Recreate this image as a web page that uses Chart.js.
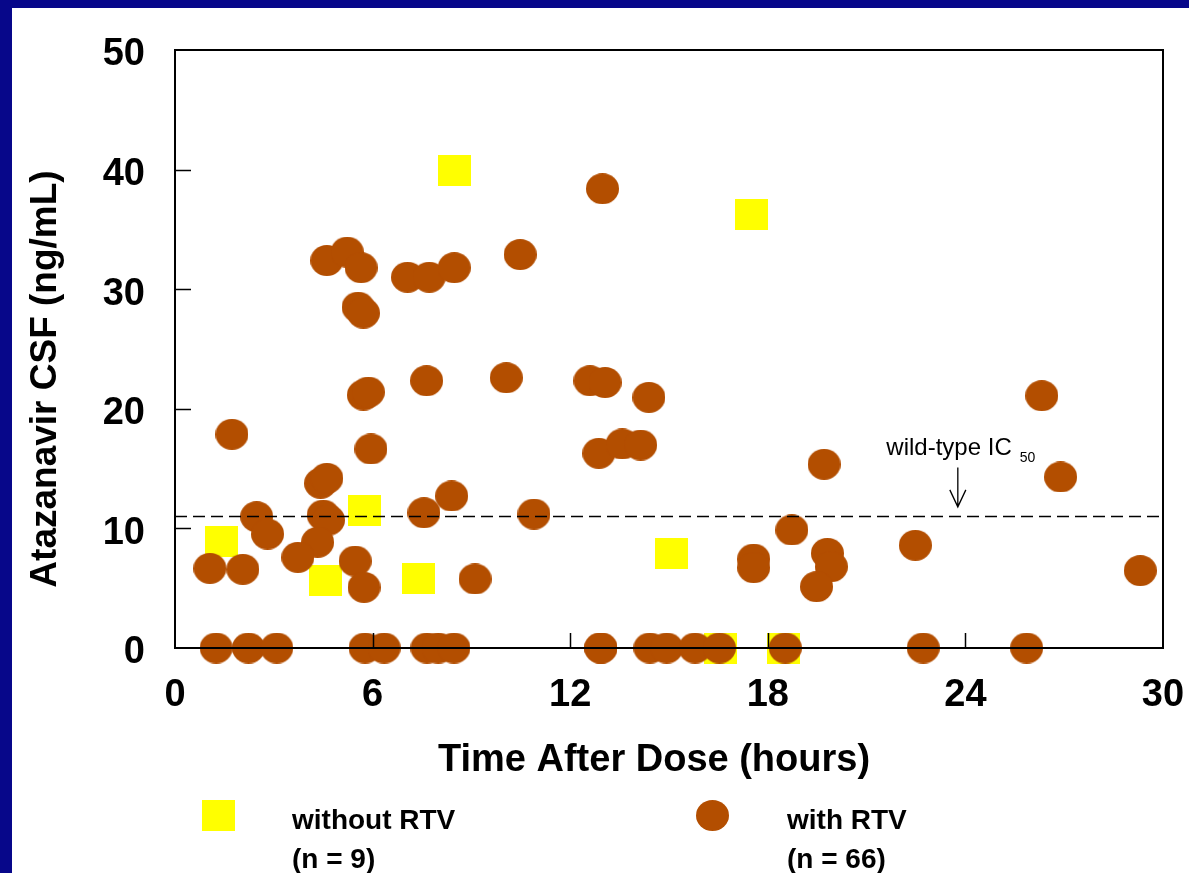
<!DOCTYPE html>
<html>
<head>
<meta charset="utf-8">
<title>Atazanavir CSF</title>
<script src="https://cdn.jsdelivr.net/npm/chart.js@4.4.1/dist/chart.umd.min.js"></script>
<style>
  html, body { margin: 0; padding: 0; background: #fff; }
  #wrap { position: relative; width: 1189px; height: 873px; overflow: hidden; background: #fff; }
  #chart { position: absolute; left: 0; top: 0; width: 1189px; height: 873px; }
  .bar { position: absolute; background: #07078a; }
</style>
</head>
<body>
<div id="wrap">
  <canvas id="chart" width="1189" height="873"></canvas>
  <div class="bar" style="left:0;top:0;width:1189px;height:8px"></div>
  <div class="bar" style="left:0;top:0;width:12px;height:873px"></div>
</div>
<script>
// hours after dose / CSF conc (ng/mL)
const hoursNoRtv = [1.41, 8.49, 17.51, 5.74, 4.57, 7.40, 15.08, 16.55, 18.48];
const csfNoRtv   = [8.9, 39.9, 36.25, 11.5, 5.66, 5.83, 7.92, 0, 0];

const hoursRtv = [
  12.98, 10.48, 4.61, 5.23, 5.65, 7.06, 7.72, 8.48, 5.56, 5.72,
  5.72, 5.87, 5.95, 7.64, 10.06, 12.60, 13.06, 14.39, 12.87, 13.58,
  14.14, 1.73, 4.42, 4.61, 8.40, 7.56, 10.90, 2.48, 2.81, 4.50,
  4.66, 4.33, 3.73, 5.47, 5.74, 1.06, 2.06, 9.11, 26.32, 26.89,
  19.71, 18.73, 22.48, 17.57, 17.57, 19.81, 19.93, 19.48, 29.31,
  1.25, 2.23, 3.09, 5.77, 6.35, 7.65, 7.99, 8.47, 12.93, 12.93,
  14.42, 14.93, 15.79, 16.53, 18.53, 22.72, 25.86
];
const csfRtv = [
  38.4, 32.9, 32.4, 33.1, 31.8, 31.0, 31.0, 31.8, 28.5, 28.0,
  21.15, 21.4, 16.64, 22.35, 22.6, 22.35, 22.2, 20.96, 16.28, 17.06,
  16.97, 17.87, 13.77, 14.19, 12.71, 11.31, 11.2, 10.98, 9.53, 11.12,
  10.7, 8.84, 7.58, 7.27, 5.07, 6.66, 6.58, 5.77, 21.1, 14.3,
  15.36, 9.87, 8.59, 7.44, 6.72, 7.92, 6.8, 5.13, 6.47,
  0, 0, 0, 0, 0, 0, 0, 0, 0, 0,
  0, 0, 0, 0, 0, 0, 0
];

const ic50 = 11;            // wild-type IC50, ng/mL
const ic50Span = [0, 30];   // hours
const xTicks = [0, 6, 12, 18, 24, 30];
const yTicks = [0, 10, 20, 30, 40, 50];

const FONT = "'Liberation Sans', Arial, Helvetica, sans-serif";
const BROWN = '#b34e00';
const YELLOW = '#ffff00';

function marker(kind, color) {
  const c = document.createElement('canvas');
  c.width = 33; c.height = 31;
  const g = c.getContext('2d');
  g.fillStyle = color;
  if (kind === 'ellipse') {
    g.beginPath(); g.ellipse(16.5, 15.5, 16.5, 15.5, 0, 0, Math.PI * 2); g.fill();
  } else {
    g.fillRect(0, 0, 33, 31);
  }
  return c;
}
const squareImg = marker('rect', YELLOW);
const dotImg = marker('ellipse', BROWN);

const toPoints = (xs, ys) => xs.map((v, i) => ({ x: v, y: ys[i] }));

// box, inward ticks, titles, IC50 note, legend
const overlay = {
  id: 'overlay',
  afterDatasetsDraw(chart) {
    const { ctx, chartArea: a, scales: { x, y } } = chart;
    ctx.save();
    ctx.strokeStyle = '#000';
    ctx.lineWidth = 2;
    ctx.strokeRect(a.left, a.top, a.right - a.left, a.bottom - a.top);
    ctx.lineWidth = 1.5;
    ctx.beginPath();
    x.ticks.forEach(t => {
      if (t.value <= x.min || t.value >= x.max) return;
      const px = Math.round(x.getPixelForValue(t.value)) + 0.5;
      ctx.moveTo(px, a.bottom); ctx.lineTo(px, a.bottom - 15);
    });
    y.ticks.forEach(t => {
      if (t.value <= y.min || t.value >= y.max) return;
      const py = Math.round(y.getPixelForValue(t.value)) + 0.5;
      ctx.moveTo(a.left, py); ctx.lineTo(a.left + 16, py);
    });
    ctx.stroke();

    // IC50 label + arrow
    const ax = x.getPixelForValue(23.77);
    ctx.fillStyle = '#000';
    ctx.textBaseline = 'alphabetic';
    ctx.textAlign = 'left';
    ctx.font = '24px ' + FONT;
    const lbl = 'wild-type IC';
    const lx = x.getPixelForValue(21.6);
    const ly = y.getPixelForValue(16.1);
    ctx.fillText(lbl, lx, ly);
    const w = ctx.measureText(lbl).width;
    ctx.font = '14px ' + FONT;
    ctx.fillText('50', lx + w + 8, ly + 7);
    const top = y.getPixelForValue(15.1), tip = y.getPixelForValue(11.8);
    ctx.lineWidth = 1.3;
    ctx.beginPath();
    ctx.moveTo(ax, top); ctx.lineTo(ax, tip);
    ctx.moveTo(ax - 8, tip - 17); ctx.lineTo(ax, tip); ctx.lineTo(ax + 8, tip - 17);
    ctx.stroke();
    ctx.restore();
  },
  afterDraw(chart) {
    const { ctx } = chart;
    ctx.save();
    ctx.fillStyle = '#000';
    // axis titles
    ctx.font = 'bold 38px ' + FONT;
    ctx.textAlign = 'center';
    ctx.textBaseline = 'middle';
    ctx.fillText('Time After Dose (hours)', 654, 761);
    ctx.save();
    ctx.translate(46, 379);
    ctx.rotate(-Math.PI / 2);
    ctx.font = 'bold 37px ' + FONT;
    ctx.fillText('Atazanavir CSF (ng/mL)', 0, 0);
    ctx.restore();

    // legend
    const items = [
      { img: squareImg, cx: 218.5, tx: 292 },
      { img: dotImg, cx: 712.5, tx: 787 }
    ];
    const ds = [chart.data.datasets[0], chart.data.datasets[1]];
    ctx.textAlign = 'left';
    ctx.textBaseline = 'alphabetic';
    ctx.font = 'bold 28px ' + FONT;
    items.forEach((it, i) => {
      ctx.drawImage(it.img, it.cx - 16.5, 815.5 - 15.5);
      ctx.fillText(ds[i].label, it.tx, 829);
      ctx.fillText('(n = ' + ds[i].data.length + ')', it.tx, 868);
    });
    ctx.restore();
  }
};

new Chart(document.getElementById('chart'), {
  type: 'scatter',
  data: {
    datasets: [
      {
        label: 'without RTV',
        data: toPoints(hoursNoRtv, csfNoRtv),
        pointStyle: squareImg, pointRadius: 16, clip: false, order: 2
      },
      {
        label: 'with RTV',
        data: toPoints(hoursRtv, csfRtv),
        pointStyle: dotImg, pointRadius: 16, clip: false, order: 1
      },
      {
        type: 'line',
        label: 'wild-type IC50',
        data: ic50Span.map(h => ({ x: h, y: ic50 })),
        borderColor: '#000', borderWidth: 1.5, borderDash: [12, 6],
        pointRadius: 0, fill: false, order: 0
      }
    ]
  },
  options: {
    responsive: false,
    animation: false,
    devicePixelRatio: 1,
    events: [],
    layout: { padding: { left: 0, top: 50, right: 26, bottom: 0 } },
    plugins: { legend: { display: false }, tooltip: { enabled: false } },
    scales: {
      x: {
        type: 'linear', min: 0, max: 30,
        afterBuildTicks: s => { s.ticks = xTicks.map(v => ({ value: v })); },
        afterFit: s => { s.height = 225; s.paddingLeft = 0; s.paddingRight = 0; },
        grid: { display: false }, border: { display: false },
        ticks: { color: '#000', padding: 17, maxRotation: 0, autoSkip: false,
                 font: { family: FONT, size: 38, weight: 'bold' } }
      },
      y: {
        type: 'linear', min: 0, max: 50,
        afterBuildTicks: s => { s.ticks = yTicks.map(v => ({ value: v })); },
        afterFit: s => { s.width = 175; s.paddingTop = 0; s.paddingBottom = 0; },
        grid: { display: false }, border: { display: false },
        ticks: { color: '#000', padding: 22, labelOffset: 5,
                 font: { family: FONT, size: 38, weight: 'bold' } }
      }
    }
  },
  plugins: [overlay]
});
</script>
</body>
</html>
